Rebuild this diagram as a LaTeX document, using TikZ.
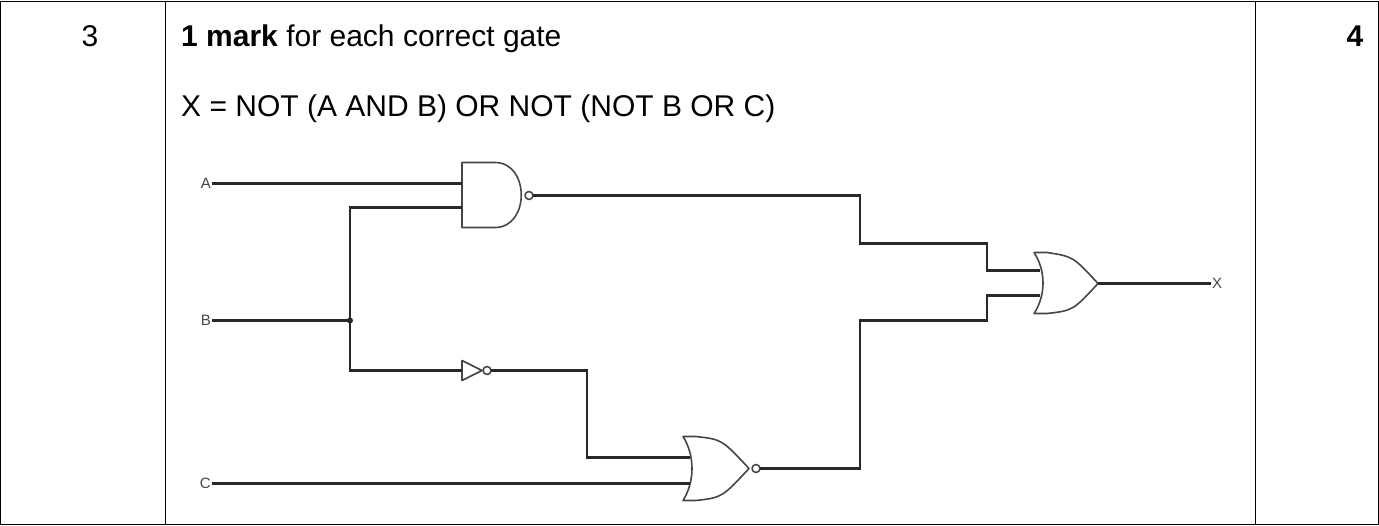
\documentclass[tikz,border=0pt]{standalone}
\usepackage{fontspec}
\setmainfont{Liberation Sans}
\usetikzlibrary{positioning,calc}
\definecolor{wiregray}{RGB}{40, 40, 40}
\definecolor{gategray}{RGB}{70, 70, 70}
\begin{document}
\begin{tikzpicture}[x=1pt, y=-1pt,
		wire/.style={line width=2.6pt, color=wiregray},
		gate/.style={line width=1.6pt, color=gategray, line join=round},
		pinlabel/.style={font=\fontsize{15}{16}\selectfont, text=gategray, inner sep=1pt},
		celltext/.style={font=\fontsize{30}{33}\selectfont, anchor=base west, inner sep=0pt}
		]
		% table
		\draw [line width=1pt] (0.5,0.5) rectangle (1378.5,523.5);
		\draw [line width=1pt] (165,0) -- (165,524);
		\draw [line width=1pt] (1255,0) -- (1255,524);
		\node [celltext, anchor=base] (num) at (90,46) {3};
		\node [celltext, anchor=base] (marks) at (1355,46) {\textbf{4}};
		\node [celltext] (head) at (181,46) {\textbf{1 mark} for each correct gate};
		\node [celltext] (expr) at (181,116) {X = NOT (A AND B) OR NOT (NOT B OR C)};
		
		% gates
		\draw [gate] (462,162) -- (495,162) .. controls (530,162) and (530,227) .. (495,227) -- (462,227) -- cycle;
		\draw [gate] (529,195) circle (4);
		\draw [gate] (462,360) -- (482,370) -- (462,380) -- cycle;
		\draw [gate] (487,370) circle (4);
		\draw [gate] (683,436) .. controls (695,455) and (695,481) .. (683,500) -- (696,500) .. controls (722,497) .. (749,468) .. controls (722,439) .. (696,436) -- cycle;
		\draw [gate] (756,468) circle (4);
		\draw [gate] (1034,252) .. controls (1046,270) and (1046,295) .. (1034,313) -- (1047,313) .. controls (1073,310) .. (1098,283) .. controls (1073,256) .. (1047,252) -- cycle;
		
		% pins
		\coordinate (nand-a) at (462,183);
		\coordinate (nand-b) at (462,207);
		\coordinate (nand-out) at (533,195);
		\coordinate (not-in) at (462,370);
		\coordinate (not-out) at (491,370);
		\coordinate (nor-b) at (690,457);
		\coordinate (nor-c) at (690,483);
		\coordinate (nor-out) at (760,468);
		\coordinate (or-1) at (1040,270);
		\coordinate (or-2) at (1040,295);
		\coordinate (or-out) at (1098,283);
		\coordinate (junc) at (350,320);
		
		\node [pinlabel, anchor=east] (A) at (212,183) {A};
		\node [pinlabel, anchor=east] (B) at (212,320) {B};
		\node [pinlabel, anchor=east] (C) at (212,483) {C};
		\node [pinlabel, anchor=west] (X) at (1211,283) {X};
		
		% wires
		\draw [wire] (A) -- (nand-a);
		\draw [wire] (B.east) -- (junc);
		\draw [wire] (nand-b) -| (junc) |- (not-in);
		\fill [wiregray] (junc) circle (3);
		\draw [wire] (C) -- (nor-c);
		\draw [wire] (not-out) -| (587,457) -- (nor-b);
		\draw [wire] (nand-out) -| (860,243) -| (987,270) -- (or-1);
		\draw [wire] (nor-out) -| (860,320) -| (987,295) -- (or-2);
		\draw [wire] (or-out) -- (X);
\end{tikzpicture}
\end{document}
